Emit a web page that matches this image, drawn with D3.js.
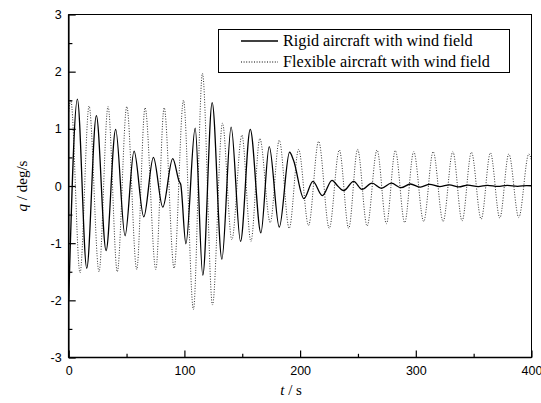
<!DOCTYPE html>
<html>
<head>
<meta charset="utf-8">
<script src="https://cdn.jsdelivr.net/npm/d3@7/dist/d3.min.js"></script>
<style>
  body { margin: 0; background: #fff; }
  svg { display: block; }
</style>
</head>
<body>
<div id="chart"></div>
<script>
// peaks and troughs, [t (s), q (deg/s)]
const rigid = [
  [0,-2.0],[7.5,1.52],[15.6,-1.44],[23.9,1.23],[32.3,-1.13],[40.6,0.99],[48.7,-0.87],
  [56.5,0.61],[64.9,-0.54],[73.2,0.50],[81.3,-0.37],[89.9,0.48],[95.5,0.08],[96.8,0.03],
  [101.3,-1.01],[109.3,1.01],[115.9,-1.56],[124,1.46],[132.4,-1.28],[140.4,1.03],
  [148.5,-0.97],[156.9,0.99],[166.1,-0.82],[173.3,0.69],[182,-0.72],[190.9,0.59],
  [194.3,0.45],[203.3,-0.22],[211.1,0.08],[219.2,-0.17],[227.6,0.10],[232.5,0.0],
  [237.6,-0.08],[246.3,0.08],[253.5,-0.06],[262.2,0.05],[270.2,-0.04],[278.9,0.05],
  [287.3,-0.03],[295.3,0.035],[304,-0.02],[312,0.03],[320.7,-0.01],[329,0.02],
  [337,-0.015],[345,0.015],[354,-0.01],[362,0.012],[371,-0.008],[379,0.01],
  [388,-0.005],[396,0.008],[400,0.004]
]
const flexible = [
  [0,1.3],[1.8,1.5],[9.8,-1.52],[17.6,1.40],[26.2,-1.50],[34.0,1.39],[42.0,-1.50],
  [50.2,1.39],[58.8,-1.46],[66.0,1.37],[75.3,-1.46],[82.5,1.37],[91.1,-1.44],[99.2,1.50],
  [107.8,-2.16],[115.6,1.97],[124.3,-2.08],[132.9,1.10],[141,-0.94],[149.7,0.89],
  [157.5,-0.97],[165.2,0.83],[174.2,-0.64],[182,0.80],[190.6,-0.74],[198.7,0.64],
  [207.3,-0.69],[216,0.78],[225.2,-0.74],[233.9,0.63],[242,-0.74],[249.7,0.64],
  [257.9,-0.70],[266.5,0.63],[274.6,-0.66],[282.3,0.62],[290.4,-0.64],[298.2,0.60],
  [306.8,-0.62],[315,0.60],[323.6,-0.62],[332,0.60],[340,-0.61],[348.1,0.59],
  [356.5,-0.58],[364.5,0.58],[372.6,-0.56],[380.4,0.56],[389,-0.55],[397.7,0.56],[400,0.45]
]
const xTicks = [0, 100, 200, 300, 400]
const xMinor = [50, 150, 250, 350]
const yTicks = [-3, -2, -1, 0, 1, 2, 3]
const yMinor = [-2.5, -1.5, -0.5, 0.5, 1.5, 2.5]
const legendNames = ["Rigid aircraft with wind field", "Flexible aircraft with wind field"]

const width = 541, height = 403
const mLeft = 68.7, mRight = 531.5, mTop = 14.5, mBottom = 357.5

const svg = d3.select('#chart').append('svg')
  .attr('width', width).attr('height', height)

const x = d3.scaleLinear().domain([0, 400]).range([mLeft, mRight])
const y = d3.scaleLinear().domain([-3, 3]).range([mBottom, mTop])

const line = d3.line()
  .x(d => x(d[0]))
  .y(d => y(d[1]))
  .curve(d3.curveMonotoneX)

svg.append('clipPath').attr('id', 'clip')
  .append('rect').attr('x', mLeft).attr('y', mTop)
  .attr('width', mRight - mLeft).attr('height', mBottom - mTop)

const plot = svg.append('g').attr('clip-path', 'url(#clip)')

plot.append('path')
  .datum(flexible)
  .attr('fill', 'none')
  .attr('stroke', '#333')
  .attr('stroke-width', 1)
  .attr('stroke-dasharray', '1,1.6')
  .attr('d', line)

plot.append('path')
  .datum(rigid)
  .attr('fill', 'none')
  .attr('stroke', '#000')
  .attr('stroke-width', 1.3)
  .attr('d', line)

// frame
svg.append('rect')
  .attr('x', mLeft).attr('y', mTop)
  .attr('width', mRight - mLeft).attr('height', mBottom - mTop)
  .attr('fill', 'none').attr('stroke', '#000').attr('stroke-width', 1)

svg.append('line').attr('x1', mLeft).attr('x2', mLeft).attr('y1', mTop).attr('y2', mBottom)
  .attr('stroke', '#000').attr('stroke-width', 1.6)
svg.append('line').attr('x1', mLeft).attr('x2', mRight).attr('y1', mBottom).attr('y2', mBottom)
  .attr('stroke', '#000').attr('stroke-width', 1.6)

// axes, ticks inside
const fontSans = '"Liberation Sans", Arial, sans-serif'
const fmt = d => String(d)
svg.append('g')
  .attr('transform', 'translate(0,' + mBottom + ')')
  .call(d3.axisBottom(x).tickValues(xTicks).tickFormat(fmt).tickSizeInner(-7).tickSizeOuter(0).tickPadding(9))
svg.append('g')
  .attr('transform', 'translate(0,' + mBottom + ')')
  .call(d3.axisBottom(x).tickValues(xMinor).tickSizeInner(-3.7).tickSizeOuter(0).tickFormat(''))
svg.append('g')
  .attr('transform', 'translate(' + mLeft + ',0)')
  .call(d3.axisLeft(y).tickValues(yTicks).tickFormat(fmt).tickSizeInner(-7).tickSizeOuter(0).tickPadding(7))
svg.append('g')
  .attr('transform', 'translate(' + mLeft + ',0)')
  .call(d3.axisLeft(y).tickValues(yMinor).tickSizeInner(-3.7).tickSizeOuter(0).tickFormat(''))

svg.selectAll('.domain').remove()
svg.selectAll('.tick line').attr('stroke', '#000').attr('stroke-width', 1.2)
svg.selectAll('.tick text').attr('font-family', fontSans).attr('font-size', 12.5).attr('fill', '#000')

// axis titles
const fontSerif = '"Liberation Serif", "Times New Roman", serif'
const xt = svg.append('text')
  .attr('x', (mLeft + mRight) / 2 - 9).attr('y', 395)
  .attr('text-anchor', 'middle')
  .attr('font-family', fontSerif).attr('font-size', 15)
xt.append('tspan').attr('font-style', 'italic').text('t')
xt.append('tspan').text(' / s')

const yt = svg.append('text')
  .attr('transform', 'translate(27,' + (mTop + mBottom) / 2 + ') rotate(-90)')
  .attr('text-anchor', 'middle')
  .attr('font-family', fontSerif).attr('font-size', 15)
yt.append('tspan').attr('font-style', 'italic').text('q')
yt.append('tspan').text(' / deg/s')

// legend
const lg = svg.append('g')
lg.append('rect')
  .attr('x', 218.5).attr('y', 29.5).attr('width', 291).attr('height', 43)
  .attr('fill', '#fff').attr('stroke', '#000').attr('stroke-width', 1)

const legendRows = [
  { name: legendNames[0], dash: null, w: 1.3 },
  { name: legendNames[1], dash: '1,1.6', w: 1 }
]
legendRows.forEach(function(r, i) {
  const yy = 41 + i * 21
  lg.append('line')
    .attr('x1', 241).attr('x2', 278).attr('y1', yy).attr('y2', yy)
    .attr('stroke', '#000').attr('stroke-width', r.w)
    .attr('stroke-dasharray', r.dash)
  lg.append('text')
    .attr('x', 283).attr('y', yy + 5)
    .attr('font-family', fontSerif).attr('font-size', 16.2)
    .text(r.name)
})
</script>
</body>
</html>
